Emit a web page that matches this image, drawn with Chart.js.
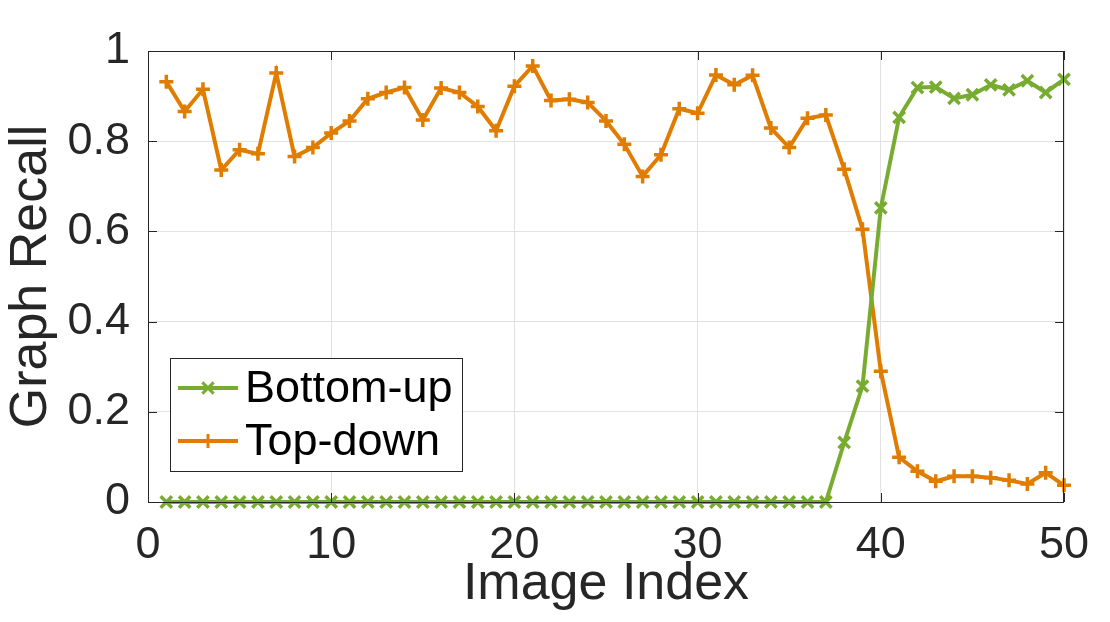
<!DOCTYPE html>
<html>
<head>
<meta charset="utf-8">
<script src="https://cdn.jsdelivr.net/npm/chart.js@4.4.1/dist/chart.umd.min.js"></script>
<style>
  html, body { margin: 0; padding: 0; background: #fff; }
  #wrap { width: 1110px; height: 622px; }
</style>
</head>
<body>
<div id="wrap"><canvas id="chart" width="1110" height="622"></canvas></div>
<script>
// values
const imageIndex = [1, 2, 3, 4, 5, 6, 7, 8, 9, 10, 11, 12, 13, 14, 15, 16, 17, 18, 19, 20,
  21, 22, 23, 24, 25, 26, 27, 28, 29, 30, 31, 32, 33, 34, 35, 36, 37, 38, 39, 40,
  41, 42, 43, 44, 45, 46, 47, 48, 49, 50];
const bottomUp = [0, 0, 0, 0, 0, 0, 0, 0, 0, 0, 0, 0, 0, 0, 0, 0, 0, 0, 0, 0,
  0, 0, 0, 0, 0, 0, 0, 0, 0, 0, 0, 0, 0, 0, 0, 0, 0, 0.132, 0.257, 0.652,
  0.853, 0.919, 0.920, 0.895, 0.903, 0.925, 0.914, 0.934, 0.908, 0.937];
const topDown = [0.932, 0.866, 0.915, 0.736, 0.781, 0.772, 0.951, 0.766, 0.786, 0.818,
  0.845, 0.894, 0.908, 0.919, 0.847, 0.918, 0.908, 0.877, 0.823, 0.922,
  0.967, 0.890, 0.893, 0.886, 0.845, 0.793, 0.722, 0.770, 0.872, 0.862,
  0.947, 0.925, 0.946, 0.829, 0.786, 0.851, 0.858, 0.738, 0.605, 0.290,
  0.099, 0.068, 0.046, 0.057, 0.057, 0.054, 0.048, 0.040, 0.065, 0.037];
const xTicks = [0, 10, 20, 30, 40, 50];
const yTicks = [0, 0.2, 0.4, 0.6, 0.8, 1];

const green = "#77AC30";
const orange = "#E07D00";
const axisColor = "#262626";
const fontFamily = "'Liberation Sans', Arial, Helvetica, sans-serif";

const toPoints = (ys) => imageIndex.map((x, i) => ({ x: x, y: ys[i] }));

// box round the plot, inward ticks on all four sides
const boxPlugin = {
  id: "box",
  afterDatasetsDraw(chart) {
    const { ctx, chartArea: a, scales } = chart;
    ctx.save();
    ctx.strokeStyle = axisColor;
    ctx.lineWidth = 1;
    ctx.strokeRect(a.left + 0.5, a.top + 0.5, a.right - a.left - 1, a.bottom - a.top);
    const len = 9;
    ctx.beginPath();
    xTicks.forEach((t) => {
      const px = Math.round(scales.x.getPixelForValue(t)) + 0.5;
      ctx.moveTo(px, a.bottom); ctx.lineTo(px, a.bottom - len);
      ctx.moveTo(px, a.top); ctx.lineTo(px, a.top + len);
    });
    yTicks.forEach((t) => {
      const py = Math.round(scales.y.getPixelForValue(t)) + 0.5;
      ctx.moveTo(a.left, py); ctx.lineTo(a.left + len, py);
      ctx.moveTo(a.right, py); ctx.lineTo(a.right - len, py);
    });
    ctx.stroke();
    ctx.restore();
  },
};

// legend box inside the plot, lower left
const legendPlugin = {
  id: "insideLegend",
  afterDraw(chart) {
    const { ctx, chartArea: a } = chart;
    const left = a.left + 22, top = a.top + 307, w = 292, h = 113;
    ctx.save();
    ctx.fillStyle = "#fff";
    ctx.fillRect(left, top, w, h);
    ctx.strokeStyle = axisColor;
    ctx.lineWidth = 1;
    ctx.strokeRect(left + 0.5, top + 0.5, w, h);
    chart.data.datasets.forEach((ds, i) => {
      const y = top + 30 + i * 53;
      ctx.strokeStyle = ds.borderColor;
      ctx.lineWidth = 4;
      ctx.beginPath();
      ctx.moveTo(left + 8, y);
      ctx.lineTo(left + 68, y);
      ctx.stroke();
      ctx.lineWidth = 3;
      Chart.helpers.drawPoint(ctx, {
        pointStyle: ds.pointStyle,
        radius: ds.pointRadius,
        borderWidth: 3,
      }, left + 38, y);
      ctx.fillStyle = "#000";
      ctx.font = "45px " + fontFamily;
      ctx.textBaseline = "middle";
      ctx.textAlign = "left";
      ctx.fillText(ds.label, left + 75, y + 2);
    });
    ctx.restore();
  },
};

const config = {
  type: "line",
  data: {
    datasets: [
      {
        label: "Bottom-up",
        data: toPoints(bottomUp),
        borderColor: green,
        backgroundColor: green,
        borderWidth: 4,
        pointStyle: "crossRot",
        pointRadius: 8,
        pointBorderWidth: 3.5,
        pointHoverRadius: 8,
        clip: false,
      },
      {
        label: "Top-down",
        data: toPoints(topDown),
        borderColor: orange,
        backgroundColor: orange,
        borderWidth: 4,
        pointStyle: "cross",
        pointRadius: 7,
        pointBorderWidth: 3.5,
        pointHoverRadius: 7,
        clip: false,
      },
    ],
  },
  options: {
    responsive: false,
    animation: false,
    devicePixelRatio: 1,
    layout: { padding: { top: 51, right: 46, left: 0, bottom: 0 } },
    plugins: {
      legend: { display: false },
      tooltip: { enabled: false },
    },
    scales: {
      x: {
        type: "linear",
        min: 0,
        max: 50,
        afterBuildTicks(scale) {
          scale.ticks = xTicks.map((v) => ({ value: v }));
        },
        afterFit(scale) {
          scale.height = 120;
        },
        grid: { color: "#e2e2e2", lineWidth: 1, drawTicks: false },
        border: { display: false },
        ticks: {
          color: axisColor,
          padding: 17,
          maxRotation: 0,
          font: { family: fontFamily, size: 45 },
        },
        title: {
          display: true,
          text: "Image Index",
          color: axisColor,
          padding: { top: 0, bottom: 6 },
          font: { family: fontFamily, size: 52 },
        },
      },
      y: {
        min: 0,
        max: 1,
        afterBuildTicks(scale) {
          scale.ticks = yTicks.map((v) => ({ value: v }));
        },
        afterFit(scale) {
          scale.width = 148;
        },
        grid: { color: "#e2e2e2", lineWidth: 1, drawTicks: false },
        border: { display: false },
        ticks: {
          color: axisColor,
          padding: 18,
          font: { family: fontFamily, size: 45 },
          callback: (v) => String(Math.round(v * 10) / 10),
        },
        title: {
          display: true,
          text: "Graph Recall",
          color: axisColor,
          padding: { top: 0, bottom: 0 },
          font: { family: fontFamily, size: 52 },
        },
      },
    },
  },
  plugins: [boxPlugin, legendPlugin],
};

const myChart = new Chart(document.getElementById("chart"), config);
</script>
</body>
</html>
